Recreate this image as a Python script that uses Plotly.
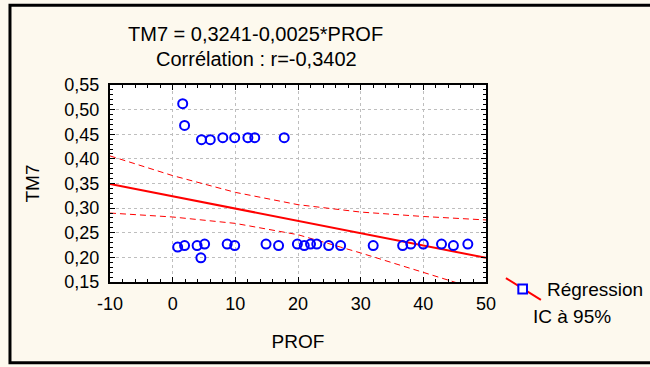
import plotly.graph_objects as go

# observed points (PROF, TM7)
prof = [1.6, 1.9, 4.6, 6.0, 8.0, 9.9, 12.0, 13.1, 17.8,
        0.8, 1.9, 3.9, 5.1, 4.5, 8.7, 9.9, 14.9, 16.9, 19.9, 21.0,
        22.0, 23.0, 24.9, 26.8, 32.0, 36.7, 38.0, 40.0, 42.9, 44.8, 47.1]
tm7 = [0.512, 0.468, 0.439, 0.439, 0.443, 0.443, 0.443, 0.443, 0.443,
       0.221, 0.224, 0.224, 0.227, 0.199, 0.227, 0.224, 0.227, 0.224, 0.227, 0.224,
       0.227, 0.227, 0.224, 0.224, 0.224, 0.224, 0.227, 0.227, 0.227, 0.224, 0.227]

# regression line and 95% band
reg_x = [-10, 50]
reg_y = [0.3491, 0.1991]
ci_x = [-10, 0, 10, 20, 30, 40, 50]
ci_up = [0.406, 0.366, 0.332, 0.307, 0.292, 0.283, 0.276]
ci_lo = [0.290, 0.282, 0.269, 0.246, 0.209, 0.170, 0.130]

# x tick labels (plain hyphen, like the original)
x_ticks = [-10, 0, 10, 20, 30, 40, 50]
x_tick_text = ['-10', '0', '10', '20', '30', '40', '50']

font_name = 'Liberation Sans'
red = 'rgb(255, 0, 0)'
blue = 'rgb(0, 0, 255)'
tick_size = 18
text_size = 19

fig = go.Figure()
fig.add_trace(go.Scatter(x = ci_x, y = ci_up, mode = 'lines',
                         line = dict(color = red, width = 1, dash = '6px,4px'),
                         showlegend = False, hoverinfo = 'skip'))
fig.add_trace(go.Scatter(x = ci_x, y = ci_lo, mode = 'lines',
                         line = dict(color = red, width = 1, dash = '6px,4px'),
                         showlegend = False, hoverinfo = 'skip'))
fig.add_trace(go.Scatter(x = reg_x, y = reg_y, mode = 'lines',
                         line = dict(color = red, width = 2),
                         showlegend = False))
fig.add_trace(go.Scatter(x = prof, y = tm7, mode = 'markers',
                         marker = dict(symbol = 'circle-open', size = 9, color = blue,
                                       line = dict(color = blue, width = 2)),
                         showlegend = False))

axis_style = dict(showline = True, linewidth = 2, linecolor = 'black', mirror = 'ticks',
                  ticks = 'inside', ticklen = 5, tickwidth = 1, tickcolor = 'black',
                  showgrid = True, gridcolor = 'rgb(190, 190, 190)', griddash = 'dot', gridwidth = 1,
                  zeroline = False, tickfont = dict(size = tick_size, color = 'black'))

fig.update_xaxes(range = [-10, 50], tickmode = 'array', tickvals = x_ticks, ticktext = x_tick_text,
                 ticklabelstandoff = 4,
                 minor = dict(ticks = 'inside', dtick = 2, tick0 = 0, ticklen = 3, tickcolor = 'black', showgrid = False),
                 title = dict(text = 'PROF', font = dict(size = text_size), standoff = 22), **axis_style)
fig.update_yaxes(range = [0.15, 0.55], dtick = 0.05, tick0 = 0.15, tickformat = '.2f', ticklabelstandoff = 5,
                 minor = dict(ticks = 'inside', dtick = 0.01, ticklen = 3, tickcolor = 'black', showgrid = False),
                 title = dict(text = 'TM7', font = dict(size = text_size), standoff = 20), **axis_style)

# outer frame
fig.add_shape(type = 'rect', xref = 'paper', yref = 'paper', x0 = -0.266, x1 = 1.6, y0 = -0.41, y1 = 1.405,
              line = dict(color = 'black', width = 3), layer = 'below')

# legend drawn by hand, Statistica-like
fig.add_shape(type = 'line', xref = 'paper', yref = 'paper', x0 = 1.053, y0 = 0.02, x1 = 1.146, y1 = -0.091,
              line = dict(color = red, width = 2))
fig.add_shape(type = 'rect', xref = 'paper', yref = 'paper', x0 = 1.086, y0 = -0.013, x1 = 1.109, y1 = -0.058,
              line = dict(color = blue, width = 2), fillcolor = 'white')
fig.add_annotation(text = 'Régression', xref = 'paper', yref = 'paper', x = 1.156, y = -0.036,
                   xanchor = 'left', yanchor = 'middle', showarrow = False, font = dict(size = text_size))
fig.add_annotation(text = 'IC à 95%', xref = 'paper', yref = 'paper', x = 1.12, y = -0.176,
                   xanchor = 'left', yanchor = 'middle', showarrow = False, font = dict(size = text_size))

# title lines
fig.add_annotation(text = 'TM7 = 0,3241-0,0025*PROF', xref = 'paper', yref = 'paper', x = 0.386, y = 1.26,
                   xanchor = 'center', yanchor = 'middle', showarrow = False, font = dict(size = 20))
fig.add_annotation(text = 'Corrélation : r=-0,3402', xref = 'paper', yref = 'paper', x = 0.39, y = 1.132,
                   xanchor = 'center', yanchor = 'middle', showarrow = False, font = dict(size = 20))

fig.update_layout(
    autosize = False,
    width = 650,
    height = 367,
    separators = ', ',
    margin = dict(l = 110, r = 164, t = 85, b = 85),
    paper_bgcolor = 'rgb(253, 249, 238)',
    plot_bgcolor = 'white',
    showlegend = False,
    font = dict(family = font_name, size = tick_size, color = 'black'))

# page margin off so the figure sits at the window corner
fig.write_html("out.html", config = {'displayModeBar': False},
               post_script = "document.body.style.margin='0';document.body.style.overflow='hidden';")
